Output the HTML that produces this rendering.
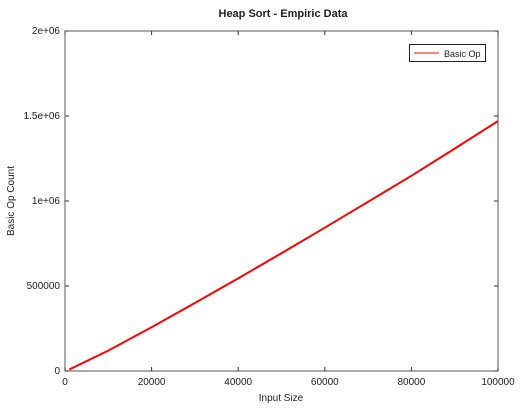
<!DOCTYPE html>
<html><head><meta charset="utf-8"><style>
body{margin:0;background:#fff;}
svg text{font-family:"Liberation Sans",sans-serif;fill:#222;}
</style></head><body>
<svg width="523" height="410" xmlns="http://www.w3.org/2000/svg">
<rect width="523" height="410" fill="#fff"/>
<text x="283" y="17" font-size="11" font-weight="bold" text-anchor="middle">Heap Sort - Empiric Data</text>
<g id="axes"></g>
<path id="series" fill="none" stroke="#ff0000" stroke-width="2"/>
<g>
<rect x="409.5" y="44.5" width="76" height="17" fill="#fff" stroke="#222" stroke-width="1"/>
<line x1="414" y1="53" x2="439" y2="53" stroke="#ff0000" stroke-width="1"/>
<text x="444" y="57" font-size="9">Basic Op</text>
</g>
<text x="281" y="401" font-size="10" text-anchor="middle">Input Size</text>
<text x="14" y="201" font-size="10" text-anchor="middle" transform="rotate(-90 14 201)">Basic Op Count</text>
</svg>
<script>
const xVals=[1000,10000,20000,30000,40000,50000,60000,70000,80000,90000,100000];
const yVals=[9000,120000,257000,400000,545000,693000,843000,995000,1148000,1308000,1470000];
const xTicks=[0,20000,40000,60000,80000,100000];
const yTicks=[0,500000,1000000,1500000,2000000];
const yTickLabels=["0","500000","1e+06","1.5e+06","2e+06"];
const L=65,R=498,T=31,B=371;
const sx=v=>L+(v-0)/100000*(R-L);
const sy=v=>B-(v/2000000)*(B-T);
const NS="http://www.w3.org/2000/svg";
const g=document.getElementById('axes');
function mk(t,a){const e=document.createElementNS(NS,t);for(const k in a)e.setAttribute(k,a[k]);g.appendChild(e);return e;}
const fr=mk('rect',{x:L,y:T,width:R-L,height:B-T,fill:'none',stroke:'#555','stroke-width':1});


xTicks.forEach(v=>{const x=sx(v);
mk('line',{x1:x,y1:B,x2:x,y2:B-4,stroke:'#333'});mk('line',{x1:x,y1:T,x2:x,y2:T+4,stroke:'#333'});
const t=mk('text',{x:x,y:B+14,'font-size':10,'text-anchor':'middle'});t.textContent=v;

});
yTicks.forEach((v,i)=>{const y=sy(v);
mk('line',{x1:L,y1:y,x2:L+4,y2:y,stroke:'#333'});mk('line',{x1:R,y1:y,x2:R-4,y2:y,stroke:'#333'});
const t=mk('text',{x:L-5,y:y+3,'font-size':10,'text-anchor':'end'});t.textContent=yTickLabels[i];

});
document.getElementById('series').setAttribute('d',xVals.map((x,i)=>(i?'L':'M')+sx(x).toFixed(1)+' '+sy(yVals[i]).toFixed(1)).join(' '));
</script>
</body></html>
